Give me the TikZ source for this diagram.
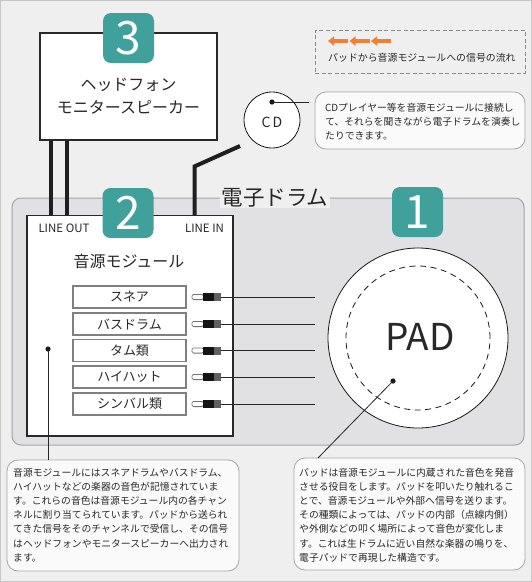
\documentclass[tikz,border=0pt]{standalone}
\usepackage{fontspec}
\setmainfont{Noto Sans CJK JP}
\usetikzlibrary{calc,arrows.meta}
\definecolor{tealc}{RGB}{64,160,156}
\definecolor{bgc}{RGB}{239,239,239}
\definecolor{drumc}{RGB}{225,225,227}
\definecolor{drumb}{RGB}{165,165,168}
\definecolor{orng}{RGB}{242,128,48}
\definecolor{txt}{RGB}{40,40,40}
\definecolor{callb}{RGB}{170,165,165}
\definecolor{callf}{RGB}{250,250,250}
\tikzset{
  badge/.style={fill=tealc, rounded corners=8, minimum width=51, minimum height=50, inner sep=0,
    text=white, font=\fontsize{46}{46}\selectfont},
  whitebox/.style={draw=txt, fill=white, line width=1.2, inner sep=0},
  instbox/.style={draw=black!50, fill=white, line width=1.3, minimum width=113, minimum height=22,
    inner sep=0, font=\fontsize{13}{13}\selectfont, text=txt},
  cable/.style={line width=4, draw=black!88},
  callout/.style={draw=callb, fill=callf, rounded corners=11, line width=0.8, inner sep=0},
  calltext/.style={align=left, inner sep=0, text=txt, font=\fontsize{9.8}{14.15}\selectfont},
  thinline/.style={line width=0.8, draw=black!85},
  jackpic/.pic={
    \draw[black!55, fill=white, line width=0.8, rounded corners=1.5] (-11,-2.6) rectangle (0.5,2.6);
    \fill[black!92] (0,-4) rectangle (11,4);
    \fill[black!62] (11,-4) rectangle (18,4);
  }
}
\begin{document}
\begin{tikzpicture}[x=1pt,y=-1pt]
\useasboundingbox (0,0) rectangle (532,582);
\node[draw=black!22, fill=bgc, minimum width=531, minimum height=581, inner sep=0] (bg) at (266,291) {};

% legend
\node[draw=black!45, dashed, dash pattern=on 4pt off 2.5pt, minimum width=210, minimum height=43, inner sep=0] (legend) at (420,51.5) {};
\foreach \i in {0,1,2}{
  \draw[orng, line width=3.2, -{Triangle[width=9pt,length=6pt]}] (348+\i*21.5,41) -- (328+\i*21.5,41);
}
\node[anchor=west, inner sep=0, text=txt, font=\fontsize{9.9}{12}\selectfont] (legtext) at (328,58) {パッドから音源モジュールへの信号の流れ};

% CD
\node[draw=black!90, fill=white, circle, minimum size=56, inner sep=0, line width=0.8] (cd) at (272,120) {};
\node[inner sep=0, text=txt, font=\fontsize{14}{14}\selectfont] (cdt) at (272,122) {C\kern2pt D};
\fill[black!90] (272,102) circle (2.6) coordinate (cddot);
\node[callout, minimum width=210, minimum height=57] (cdcall) at (420,120.5) {};
\coordinate (cdend) at (309,102);
\draw[thinline] (cddot) -- (cdend);
\node[calltext, anchor=west] (cdtext) at (325,121.5) {CDプレイヤー等を音源モジュールに接続し\\て、それらを聞きながら電子ドラムを演奏し\\たりできます。};

% drum body
\node[draw=drumb, fill=drumc, rounded corners=9, minimum width=512, minimum height=247, inner sep=0, line width=1] (drum) at (268,321.5) {};
\node[fill=bgc, inner sep=1.5, text=txt, font=\fontsize{21.5}{22}\selectfont] (drumt) at (275,197.5) {電子ドラム};

% box 3
\node[whitebox, minimum width=177, minimum height=107] (box3) at (128.5,86.5) {};
\node[badge] (badge3) at (128.5,38) {3};
\node[align=center, inner sep=0, text=txt, font=\fontsize{16}{23}\selectfont] (t3) at (128.5,96.5) {ヘッドフォン\\モニタースピーカー};

% box 2
\node[whitebox, minimum width=206, minimum height=220] (box2) at (130,326) {};
\draw[cable] ([xshift=12]box3.south west) -- ([xshift=25]box2.north west);
\draw[cable] ([xshift=28]box3.south west) -- ([xshift=41]box2.north west);
\coordinate (linein) at (240,146);
\draw[cable] ([xshift=-39]box2.north east) -- ++(0,-49) -- (linein);
\node[whitebox, draw=none, minimum width=204, minimum height=3] at (130,217.5) {};
\draw[txt, line width=1.2] (box2.north west) -- (box2.north east);
\node[badge] (badge2) at (128,213) {2};
\node[inner sep=0, text=txt, font=\fontsize{11.5}{12}\selectfont] (lout) at (64,228) {LINE OUT};
\node[inner sep=0, text=txt, font=\fontsize{11.5}{12}\selectfont] (lin) at (204.5,228) {LINE IN};
\node[inner sep=0, text=txt, font=\fontsize{16}{16}\selectfont] (modt) at (129,261) {音源モジュール};

\foreach \y/\t [count=\k] in {297/スネア, 324/バスドラム, 350.5/タム類, 377/ハイハット, 404/シンバル類}{
  \node[instbox] (inst\k) at (129.5,\y) {\t};
  \pic at (203,\y) {jackpic};
  \coordinate (jack\k) at (221,\y);
  \coordinate (lend\k) at (315,\y);
  \draw[thinline] (jack\k) -- (lend\k);
}

% PAD
\node[draw=black!90, fill=white, circle, minimum size=180, inner sep=0, line width=0.8] (pad) at (418,338) {};
\node[draw=black!90, dashed, dash pattern=on 6pt off 4.5pt, circle, minimum size=144, inner sep=0, line width=0.8] (padin) at (418,338) {};
\node[inner sep=0, text=txt, font=\fontsize{37}{37}\selectfont] (padt) at (420,337) {PAD};
\node[badge] (badge1) at (417.5,212) {1};

% callouts
\node[callout, minimum width=232, minimum height=111] (lcall) at (123,515.5) {};
\node[callout, minimum width=231, minimum height=112] (rcall) at (409.5,514) {};
\fill[black!90] (48,349) circle (2.6) coordinate (ldot);
\draw[thinline] (ldot) -- (ldot |- lcall.north);
\fill[black!90] (393,381) circle (2.6) coordinate (rdot);
\coordinate (rend) at (318,458);
\draw[thinline] (rdot) -- (rend);

\node[calltext, anchor=west] (ltext) at (13,515) {音源モジュールにはスネアドラムやバスドラム、\\ハイハットなどの楽器の音色が記憶されていま\\す。これらの音色は音源モジュール内の各チャン\\ネルに割り当てられています。パッドから送られ\\てきた信号をそのチャンネルで受信し、その信号\\はヘッドフォンやモニタースピーカーへ出力され\\ます。};
\node[calltext, anchor=west] (rtext) at (299,515) {パッドは音源モジュールに内蔵された音色を発音\\させる役目をします。パッドを叩いたり触れるこ\\とで、音源モジュールや外部へ信号を送ります。\\その種類によっては、パッドの内部（点線内側）\\や外側などの叩く場所によって音色が変化しま\\す。これは生ドラムに近い自然な楽器の鳴りを、\\電子パッドで再現した構造です。};
\end{tikzpicture}
\end{document}
